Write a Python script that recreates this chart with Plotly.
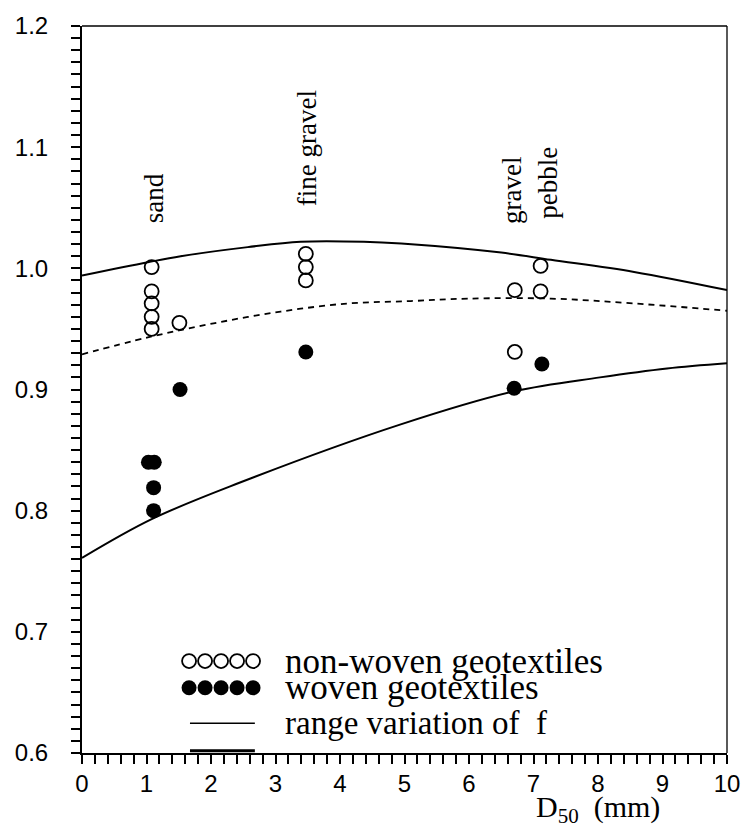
import plotly.graph_objects as go

# ---- data -------------------------------------------------------------
# non-woven geotextiles (open circles)
nonwoven_d50 = [1.08, 1.08, 1.08, 1.08, 1.08, 1.51, 3.47, 3.47, 3.47, 6.71, 6.71, 7.11, 7.11]
nonwoven_f = [1.001, 0.981, 0.971, 0.960, 0.950, 0.955, 1.012, 1.001, 0.990, 0.982, 0.931, 1.002, 0.981]

# woven geotextiles (filled circles)
woven_d50 = [1.03, 1.12, 1.11, 1.11, 1.52, 3.47, 6.70, 7.13]
woven_f = [0.840, 0.840, 0.819, 0.800, 0.900, 0.931, 0.901, 0.921]

# range variation of f: upper bound, mean, lower bound
upper_d50 = [0, 1.02, 1.53, 2.57, 3.39, 4.37, 4.95, 6.5, 7.27, 8.56, 10]
upper_f = [0.994, 1.005, 1.010, 1.0175, 1.022, 1.022, 1.0205, 1.013, 1.007, 0.997, 0.982]

mean_d50 = [0, 1.02, 2.04, 3.08, 4.12, 5.1, 5.98, 7.27, 8.56, 10]
mean_f = [0.929, 0.943, 0.9546, 0.9643, 0.971, 0.973, 0.975, 0.975, 0.971, 0.965]

lower_d50 = [0, 1.08, 2.44, 4.93, 6.7, 8.03, 9.07, 10]
lower_f = [0.761, 0.793, 0.823, 0.871, 0.8985, 0.910, 0.9174, 0.9217]

# soil class labels
class_names = ["sand", "fine gravel", "gravel", "pebble"]
class_d50 = [1.12, 3.5, 6.67, 7.23]
class_f = [1.058, 1.099, 1.064, 1.071]

x_range = [0, 10]
y_range = [0.6, 1.2]
x_major_labels = ["0", "1", "2", "3", "4", "5", "6", "7", "8", "9", "10"]
y_major_labels = ["0.6", "0.7", "0.8", "0.9", "1.0", "1.1", "1.2"]
x_minor_per_major = 5     # 0.2 mm spacing
y_minor_per_major = 10    # 0.01 spacing

legend_labels = ["non-woven geotextiles", "woven geotextiles", "range variation of  f"]

# ---- styling ----------------------------------------------------------
SERIF = "Liberation Serif, Times New Roman, serif"
SANS = "Liberation Sans, Arial, sans-serif"
INK = "black"
MARKER_SIZE = 15

# every tick position (major and minor); only the major ones carry labels
x_step = (x_range[1] - x_range[0]) / (len(x_major_labels) - 1) / x_minor_per_major
x_tickvals, x_ticktext = [], []
for i in range((len(x_major_labels) - 1) * x_minor_per_major + 1):
    x_tickvals.append(round(x_range[0] + i * x_step, 4))
    x_ticktext.append(x_major_labels[i // x_minor_per_major] if i % x_minor_per_major == 0 else "")

y_step = (y_range[1] - y_range[0]) / (len(y_major_labels) - 1) / y_minor_per_major
y_tickvals, y_ticktext = [], []
for i in range((len(y_major_labels) - 1) * y_minor_per_major + 1):
    y_tickvals.append(round(y_range[0] + i * y_step, 4))
    y_ticktext.append(y_major_labels[i // y_minor_per_major] if i % y_minor_per_major == 0 else "")

fig = go.Figure()

fig.add_trace(go.Scatter(x=upper_d50, y=upper_f, mode="lines",
                         line=dict(color=INK, width=2, shape="spline"),
                         showlegend=False, hoverinfo="skip"))
fig.add_trace(go.Scatter(x=mean_d50, y=mean_f, mode="lines",
                         line=dict(color=INK, width=1.8, dash="6px,5px", shape="spline"),
                         showlegend=False, hoverinfo="skip"))
fig.add_trace(go.Scatter(x=lower_d50, y=lower_f, mode="lines",
                         line=dict(color=INK, width=2, shape="spline"),
                         showlegend=False, hoverinfo="skip"))

fig.add_trace(go.Scatter(x=nonwoven_d50, y=nonwoven_f, mode="markers",
                         marker=dict(symbol="circle-open", size=MARKER_SIZE - 1,
                                     color=INK, line=dict(width=1.8, color=INK)),
                         showlegend=False))
fig.add_trace(go.Scatter(x=woven_d50, y=woven_f, mode="markers",
                         marker=dict(symbol="circle", size=MARKER_SIZE, color=INK),
                         showlegend=False))

# ---- hand-drawn legend block (overlay axes in plot fractions) ----------
LEG_X0 = 0.166      # first sample marker centre
LEG_STEP = 0.0248   # spacing between touching sample markers
LEG_ROWS = [0.1265, 0.0898, 0.0408]
LEG_TEXT_X = 0.3116
LEG_SIZES = [35, 35, 33]
sample_x = [LEG_X0 + i * LEG_STEP for i in range(5)]

fig.add_trace(go.Scatter(x=sample_x, y=[LEG_ROWS[0]] * 5, mode="markers",
                         xaxis="x2", yaxis="y2",
                         marker=dict(symbol="circle-open", size=MARKER_SIZE - 1,
                                     color=INK, line=dict(width=1.8, color=INK)),
                         showlegend=False, hoverinfo="skip"))
fig.add_trace(go.Scatter(x=sample_x, y=[LEG_ROWS[1]] * 5, mode="markers",
                         xaxis="x2", yaxis="y2",
                         marker=dict(symbol="circle", size=MARKER_SIZE, color=INK),
                         showlegend=False, hoverinfo="skip"))

shapes = [
    # line sample for the range curves
    dict(type="line", xref="paper", yref="paper", x0=0.1674, x1=0.268,
         y0=LEG_ROWS[2], y1=LEG_ROWS[2], line=dict(color=INK, width=1.5)),
    # partly hidden second line sample resting on the axis
    dict(type="line", xref="paper", yref="paper", x0=0.1674, x1=0.268,
         y0=0.003, y1=0.003, line=dict(color=INK, width=3)),
    # thin top and right frame
    dict(type="line", xref="paper", yref="paper", x0=0, x1=1, y0=1, y1=1,
         line=dict(color=INK, width=1.3)),
    dict(type="line", xref="paper", yref="paper", x0=1, x1=1, y0=0, y1=1,
         line=dict(color=INK, width=1.3)),
]

annotations = []
for txt, yy, sz in zip(legend_labels, LEG_ROWS, LEG_SIZES):
    annotations.append(dict(text=txt, xref="paper", yref="paper", x=LEG_TEXT_X, y=yy,
                            xanchor="left", yanchor="middle", showarrow=False,
                            font=dict(family=SERIF, size=sz, color=INK)))

for name, xx, yy in zip(class_names, class_d50, class_f):
    annotations.append(dict(text=name, x=xx, y=yy, xref="x", yref="y",
                            textangle=-90, showarrow=False,
                            xanchor="center", yanchor="middle",
                            font=dict(family=SERIF, size=27, color=INK)))

# x-axis title
annotations.append(dict(text="D<sub>50</sub>\u00a0\u00a0(mm)", xref="paper", yref="paper",
                        x=0.7, y=-0.048, xanchor="left", yanchor="top",
                        showarrow=False,
                        font=dict(family=SERIF, size=30, color=INK)))

axis_common = dict(
    showgrid=False, zeroline=False, showline=True, linecolor=INK, linewidth=2,
    ticks="outside", ticklen=9, tickwidth=1.8, tickcolor=INK,
    tickfont=dict(family=SANS, size=24, color=INK),
)

fig.update_layout(
    width=753, height=827,
    margin=dict(l=82, r=26, t=18, b=74),
    paper_bgcolor="white", plot_bgcolor="white",
    showlegend=False,
    shapes=shapes,
    annotations=annotations,
    xaxis=dict(range=x_range, tickmode="array", tickvals=x_tickvals, ticktext=x_ticktext,
               ticklabelstandoff=-1, **axis_common),
    yaxis=dict(range=y_range, tickmode="array", tickvals=y_tickvals, ticktext=y_ticktext,
               ticklabelstandoff=18, **axis_common),
    xaxis2=dict(range=[0, 1], overlaying="x", anchor="y2", visible=False),
    yaxis2=dict(range=[0, 1], overlaying="y", anchor="x2", visible=False),
)

fig.write_html("out.html")
